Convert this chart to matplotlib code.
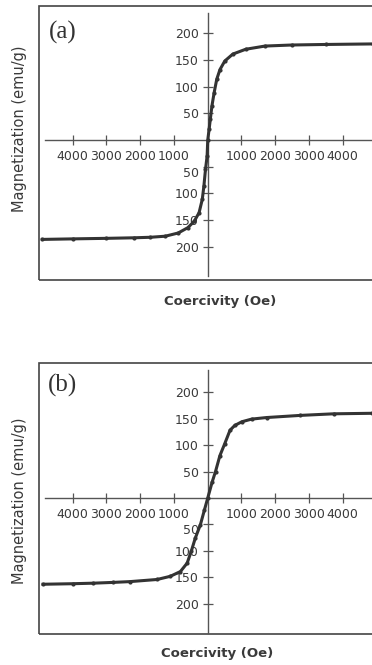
import matplotlib
matplotlib.use("Agg")
import matplotlib.pyplot as plt
from matplotlib.patches import Rectangle

# ---- data ----
H_a = [-4900, -4000, -3000, -2200, -1700, -1257, -876, -590, -400, -257, -162, -114, -67, -19, 0,
       40, 76, 124, 190, 267, 362, 505, 743, 1124, 1695, 2500, 3500, 4900]
M_a = [-186, -185, -184, -183, -182, -180, -174, -164, -152, -136, -111, -86, -55, -30, 0,
       20, 39, 64, 89, 114, 132, 148, 161, 170, 176, 178, 179, 180]

H_b = [-4880, -4000, -3400, -2800, -2300, -1500, -1110, -810, -610, -490, -370, -220, -100, 0,
       130, 230, 360, 500, 660, 800, 1010, 1300, 1750, 2740, 3730, 4880]
M_b = [-163, -162, -161, -159.5, -158, -154, -148, -139, -123, -101, -76, -51, -23, 0,
       30, 50, 80, 102, 128, 137, 144, 149, 152, 156, 159, 160]

x_ticks = [-4000, -3000, -2000, -1000, 1000, 2000, 3000, 4000]
x_labels = ["4000", "3000", "2000", "1000", "1000", "2000", "3000", "4000"]
y_ticks = [-200, -150, -100, -50, 50, 100, 150, 200]
y_labels = ["200", "150", "100", "50", "50", "100", "150", "200"]

W, H = 372, 665
fig = plt.figure(figsize=(W / 100, H / 100), dpi=100)

TXT = "#3a3a3a"
AX = "#555555"


def px(x0, y0, x1, y1):
    return [x0 / W, 1 - y1 / H, (x1 - x0) / W, (y1 - y0) / H]


def panel(rect, H_vals, M_vals, ylim, vbounds, tag, tag_xy, xl_xy, yl_xy):
    ax = fig.add_axes(rect)
    ax.set_xlim(-5000, 5000)
    ax.set_ylim(*ylim)
    ax.patch.set_alpha(0)
    for s in ["top", "right"]:
        ax.spines[s].set_visible(False)
    ax.spines["left"].set_position(("data", 0))
    ax.spines["bottom"].set_position(("data", 0))
    ax.spines["left"].set_bounds(*vbounds)
    ax.spines["bottom"].set_bounds(-4820, 5000)
    for s in ["left", "bottom"]:
        ax.spines[s].set_color(AX)
        ax.spines[s].set_linewidth(1.0)
    ax.set_xticks(x_ticks)
    ax.set_xticklabels(x_labels)
    ax.set_yticks(y_ticks)
    ylabs = ax.set_yticklabels(y_labels)
    ylabs[3].set_va("top")
    ax.tick_params(direction="inout", length=7, width=0.9, color=AX,
                   labelcolor=TXT, labelsize=9)
    ax.tick_params(axis="x", pad=4)
    ax.tick_params(axis="y", pad=3)
    ax.add_patch(Rectangle((0, 0), 1, 1, transform=ax.transAxes, fill=False,
                           edgecolor="#444444", linewidth=1.2, clip_on=False))
    ax.plot(H_vals, M_vals, color="#333333", linewidth=2.2, marker="o",
            markersize=2.0, zorder=3, clip_on=False)
    fig.text(tag_xy[0] / W, 1 - tag_xy[1] / H, tag, family="Liberation Serif",
             fontsize=18, color="#333333", ha="left", va="center")
    fig.text(xl_xy[0] / W, 1 - xl_xy[1] / H, "Coercivity (Oe)", fontsize=9.5,
             fontweight="bold", color=TXT, ha="center", va="center")
    fig.text(yl_xy[0] / W, 1 - yl_xy[1] / H, "Magnetization (emu/g)", fontsize=10.5,
             rotation=90, color=TXT, ha="center", va="center")
    return ax


panel(px(39, 6, 376.5, 280), H_a, M_a, (-262, 251), (-255, 238), "(a)",
      (49, 32), (220, 302), (20, 129))
panel(px(39, 363, 376.5, 634), H_b, M_b, (-257, 255), (-255, 241), "(b)",
      (48, 385), (217, 653), (20, 501))

fig.savefig("out.png", dpi=100)
